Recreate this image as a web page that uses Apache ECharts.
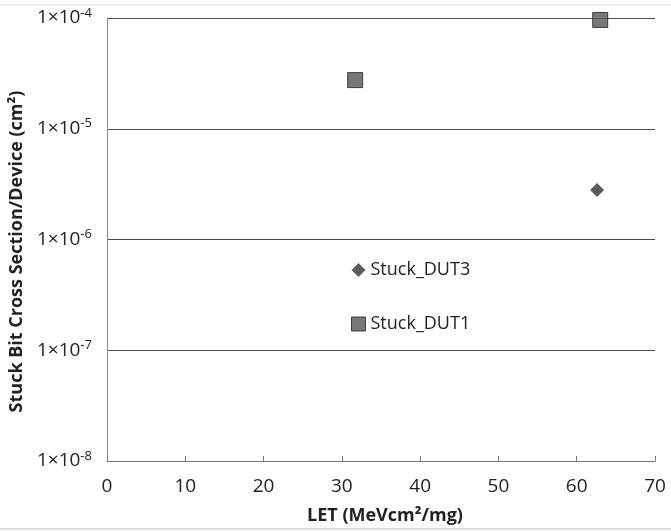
<!DOCTYPE html>
<html><head><meta charset="utf-8">
<script src="https://cdn.jsdelivr.net/npm/echarts@6/dist/echarts.min.js"></script>
<style>html,body{margin:0;padding:0;background:#fff}#c{width:671px;height:531px}</style>
</head><body><div id="c"></div>
<script>
var xTicks = [0, 10, 20, 30, 40, 50, 60, 70];
var yTickExponents = [-8, -7, -6, -5, -4];
var dut3LET = [62.6];
var dut3Sigma = [2.8e-6];
var dut1LET = [31.7, 63.0];
var dut1Sigma = [2.75e-5, 9.6e-5];
var seriesNames = ['Stuck_DUT3', 'Stuck_DUT1'];

var F = 'Open Sans';
var chart = echarts.init(document.getElementById('c'), null, {renderer: 'canvas'});
chart.setOption({
  backgroundColor: '#fff',
  animation: false,
  textStyle: {fontFamily: F},
  grid: {left: 105, right: 16, top: 18, bottom: 70},
  legend: {
    orient: 'vertical', left: 346, top: 256, itemGap: 36,
    itemWidth: 14, itemHeight: 14,
    textStyle: {fontFamily: F, fontSize: 18, color: '#222'},
    data: [
      {name: seriesNames[0], icon: 'diamond', itemStyle: {color: '#333'}},
      {name: seriesNames[1], icon: 'rect', itemStyle: {color: '#555', borderColor: '#222', borderWidth: 1}}
    ]
  },
  xAxis: {
    type: 'value', min: xTicks[0], max: xTicks[xTicks.length - 1], interval: 10,
    name: 'LET (MeVcm²/mg)', nameLocation: 'middle', nameGap: 46,
    nameTextStyle: {fontFamily: F, fontSize: 18, fontWeight: 'bold', color: '#222', padding: [0, 0, 0, 8]},
    axisLine: {show: true, lineStyle: {color: '#777', width: 1}},
    axisTick: {show: true, inside: true, length: 5, lineStyle: {color: '#777'}},
    axisLabel: {fontFamily: F, fontSize: 19, color: '#222', margin: 16},
    splitLine: {show: false}
  },
  yAxis: {
    type: 'log', logBase: 10, min: Math.pow(10, yTickExponents[0]), max: Math.pow(10, yTickExponents[yTickExponents.length - 1]),
    name: 'Stuck Bit Cross Section/Device (cm²)', nameLocation: 'middle', nameGap: 76, nameRotate: 90,
    nameTextStyle: {fontFamily: F, fontSize: 18, fontWeight: 'bold', color: '#222', padding: [0, 24, 0, 0]},
    axisLine: {show: true, lineStyle: {color: '#888', width: 1}},
    axisTick: {show: false},
    axisLabel: {
      margin: 15,
      formatter: function (v) {
        var e = Math.round(Math.log10(v));
        return '{a|1×10}{b|' + e + '}';
      },
      rich: {
        a: {fontFamily: F, fontSize: 19, color: '#222'},
        b: {fontFamily: F, fontSize: 13, color: '#222', verticalAlign: 'top', padding: [0, 0, 10, 0]}
      }
    },
    splitLine: {show: true, lineStyle: {color: '#4a4a4a', width: 1}}
  },
  series: [
    {
      name: seriesNames[0], type: 'scatter', symbol: 'diamond', symbolSize: 14,
      itemStyle: {color: '#333'},
      data: dut3LET.map(function (x, i) { return [x, dut3Sigma[i]]; })
    },
    {
      name: seriesNames[1], type: 'scatter', symbol: 'rect', symbolSize: 15,
      itemStyle: {color: '#555', borderColor: '#222', borderWidth: 1},
      data: dut1LET.map(function (x, i) { return [x, dut1Sigma[i]]; })
    }
  ],
  graphic: [
    {type: 'line', shape: {x1: 0, y1: 5, x2: 671, y2: 5}, style: {stroke: '#ddd', lineWidth: 1}},
    {type: 'line', shape: {x1: 0, y1: 529, x2: 671, y2: 529}, style: {stroke: '#bbb', lineWidth: 1}}
  ]
});
</script></body></html>
